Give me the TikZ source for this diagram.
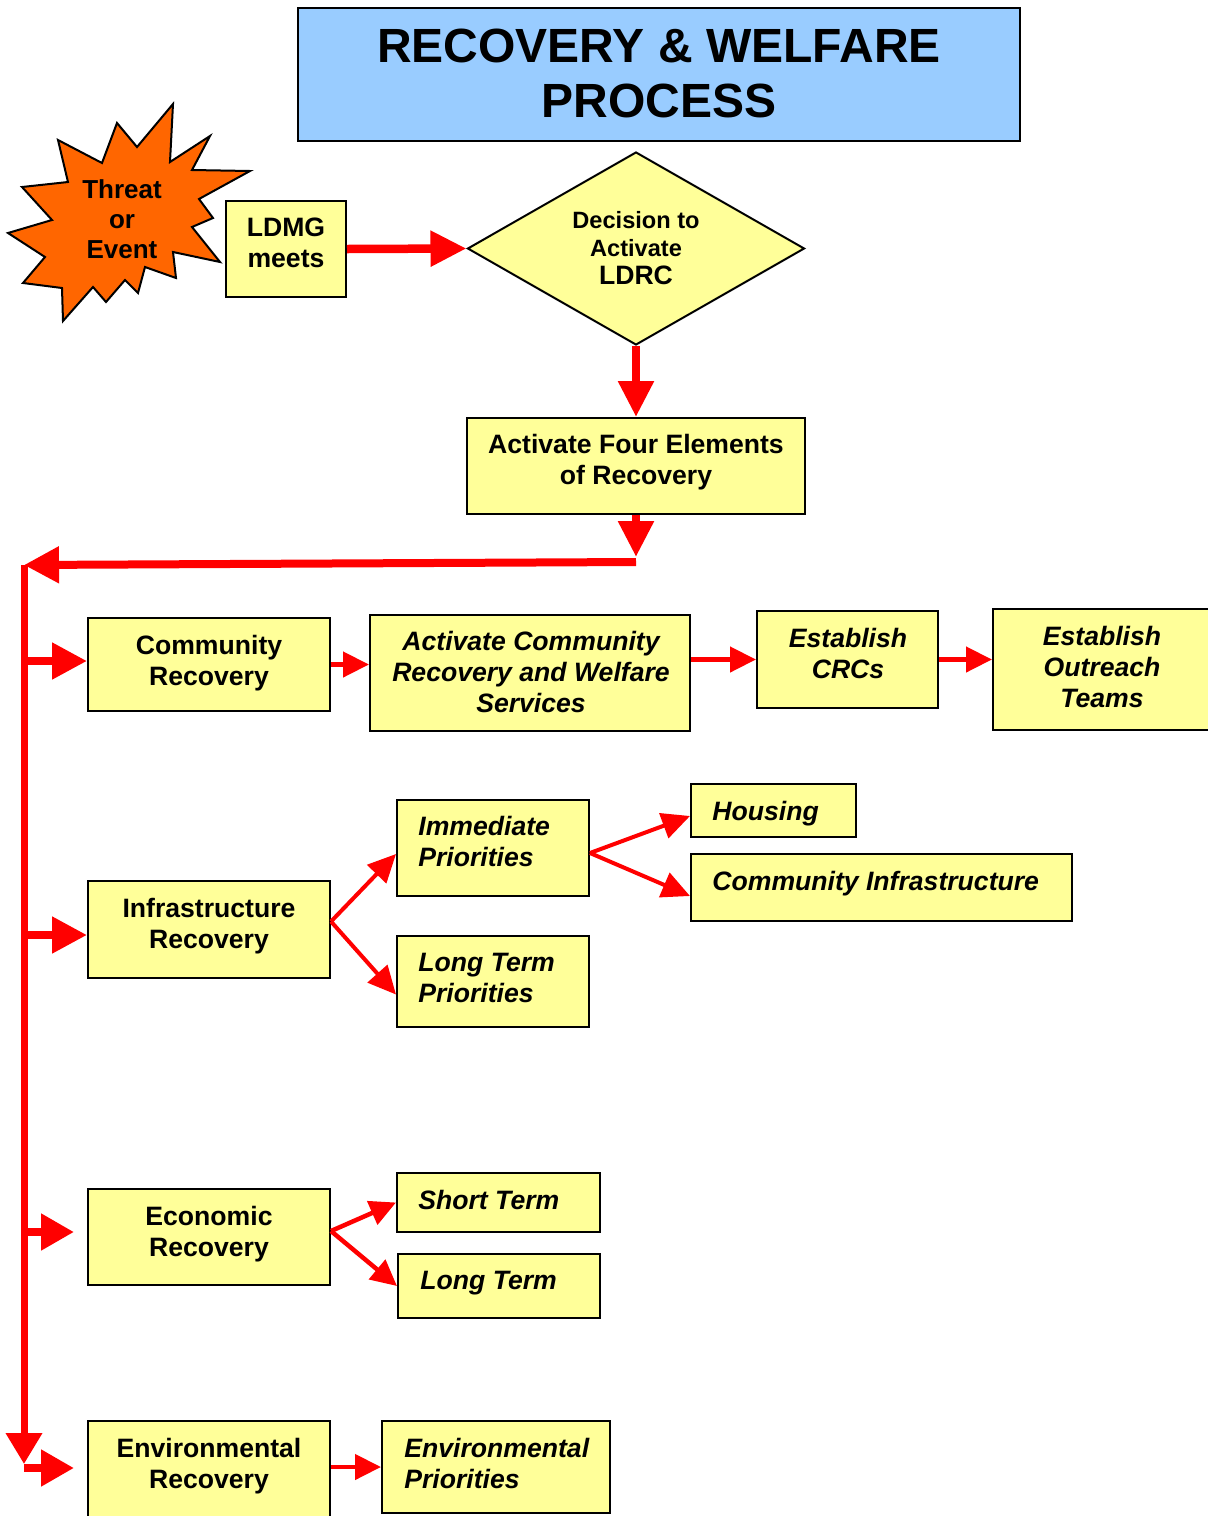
\documentclass[tikz,border=0pt]{standalone}
\usepackage{fontspec}
\setmainfont{Liberation Sans}
\usetikzlibrary{arrows.meta,shapes.geometric}
\definecolor{boxyellow}{HTML}{FFFF99}
\definecolor{titleblue}{HTML}{99CCFF}
\definecolor{burstorange}{HTML}{FF6600}
\definecolor{arrowred}{HTML}{FF0000}
\begin{document}
\begin{tikzpicture}[x=0.5pt,y=-0.5pt,
  box/.style={draw=black, line width=1pt, fill=boxyellow, rectangle, inner sep=0pt},
  txt/.style={font=\fontsize{13.3}{15.5}\selectfont\bfseries, align=center, inner sep=0pt},
  itxt/.style={font=\fontsize{13.3}{15.5}\selectfont\bfseries\itshape, align=center, inner sep=0pt},
  iltxt/.style={font=\fontsize{13.3}{15.5}\selectfont\bfseries\itshape, align=left, inner sep=0pt, anchor=west},
  bigarrow/.style={draw=arrowred, line width=4.25pt, -{Triangle[length=18pt,width=17pt]}},
  trunkarrow/.style={draw=arrowred, line width=3.5pt, -{Triangle[length=15.5pt,width=17.5pt]}},
  brancharrow/.style={draw=arrowred, line width=4pt, -{Triangle[length=17.5pt,width=17.5pt]}},
  smallarrow/.style={draw=arrowred, line width=2.25pt, -{Triangle[length=13pt,width=12.5pt]}},
  diagarrow/.style={draw=arrowred, line width=2pt, -{Triangle[length=14pt,width=13pt]}}
]
\useasboundingbox (0,0) rectangle (1207,1516);
\fill[white] (0,0) rectangle (1207,1516);

% title
\node[draw=black, line width=1pt, fill=titleblue, rectangle, inner sep=0pt,
      minimum width=361pt, minimum height=66.5pt] (title) at (659,74.5) {};
\node[font=\fontsize{24}{27.5}\selectfont\bfseries, align=center, inner sep=0pt] (titlet) at (659,73) {RECOVERY \& WELFARE\\PROCESS};

% starburst
\draw[fill=burstorange, line width=1pt, line join=miter]
  (173,104) -- (170,162) -- (210,136) -- (192,170) -- (250,171) -- (199,199) -- (213,218) -- (192,227)
  -- (220,262) -- (173,252) -- (176,278) -- (145,267) -- (138,293) -- (125,280) -- (106,302) -- (93,287)
  -- (63,321) -- (62,288) -- (23,283) -- (45,257) -- (8,233) -- (52,220) -- (22,187) -- (68,182)
  -- (58,140) -- (102,163) -- (117,123) -- (137,147) -- cycle;
\node[font=\fontsize{13}{15}\selectfont\bfseries, align=center, inner sep=0pt] (threat) at (122,219) {Threat\\or\\Event};

% top row
\node[box, minimum width=60pt, minimum height=48pt] (ldmg) at (286,249) {};
\node[txt] (ldmgt) at (286,243) {LDMG\\meets};
\node[draw=black, line width=1pt, fill=boxyellow, diamond, inner sep=0pt,
      minimum width=168.5pt, minimum height=96.5pt] (dec) at (636,248.5) {};
\node[font=\fontsize{11.8}{14}\selectfont\bfseries, align=center, inner sep=0pt] (dect) at (636,248)
  {Decision to\\Activate\\{\fontsize{13.3}{14.5}\selectfont LDRC}};
\node[box, minimum width=169pt, minimum height=48pt] (act) at (636,466) {};
\node[txt] (actt) at (636,462) {Activate Four Elements\\of Recovery};

% community row
\node[box, minimum width=121pt, minimum height=46.5pt] (cr) at (209,664.5) {};
\node[txt] (crt) at (209,663) {Community\\Recovery};
\node[box, minimum width=160pt, minimum height=58pt] (acr) at (530,673) {};
\node[itxt] (acrt) at (531,672) {Activate Community\\Recovery and Welfare\\Services};
\node[box, minimum width=90.5pt, minimum height=48.5pt] (crc) at (847.5,659.5) {};
\node[itxt] (crct) at (848,653) {Establish\\CRCs};
\node[box, minimum width=109pt, minimum height=60.5pt] (eot) at (1102,669.5) {};
\node[itxt] (eott) at (1102,667) {Establish\\Outreach\\Teams};

% infrastructure
\node[box, minimum width=121pt, minimum height=48.5pt] (ir) at (209,929.5) {};
\node[txt] (irt) at (209,926) {Infrastructure\\Recovery};
\node[box, minimum width=96pt, minimum height=48pt] (ip) at (493,848) {};
\node[iltxt] (ipt) at (418,841) {Immediate\\Priorities};
\node[box, minimum width=96pt, minimum height=45.5pt] (ltp) at (493,981.5) {};
\node[iltxt] (ltpt) at (418,978) {Long Term\\Priorities};
\node[box, minimum width=82.5pt, minimum height=26.5pt] (hs) at (773.5,810.5) {};
\node[iltxt] (hst) at (712,813.5) {Housing};
\node[box, minimum width=190.5pt, minimum height=33.5pt] (ci) at (881.5,887.5) {};
\node[iltxt] (cit) at (712,884) {Community Infrastructure};

% economic
\node[box, minimum width=121pt, minimum height=48pt] (er) at (209,1237) {};
\node[txt] (ert) at (209,1234) {Economic\\Recovery};
\node[box, minimum width=101.5pt, minimum height=29.5pt] (st) at (498.5,1202.5) {};
\node[iltxt] (stt) at (418,1200) {Short Term};
\node[box, minimum width=101pt, minimum height=32pt] (lt) at (499,1286) {};
\node[iltxt] (ltt) at (420,1283) {Long Term};

% environmental
\node[box, minimum width=121pt, minimum height=51pt] (env) at (209,1472) {};
\node[txt] (envt) at (209,1466) {Environmental\\Recovery};
\node[box, minimum width=114pt, minimum height=46pt] (ep) at (496,1467) {};
\node[iltxt] (ept) at (404,1463) {Environmental\\Priorities};

% connectors top
\draw[bigarrow] (ldmg.east) -- (dec.west);
\draw[bigarrow] (dec.south) -- (act.north);
\coordinate (a1) at (636,557);
\draw[bigarrow] (act.south) -- (a1);
\coordinate (t0) at (636,562);
\coordinate (t1) at (24,565);
\coordinate (t2) at (24,1464);
\draw[draw=arrowred, line width=4pt, -{Triangle[length=17.5pt,width=17.5pt]}] (t0) -- (t1);
\draw[trunkarrow] (t1) -- (t2);

% branches
\coordinate (b1) at (24,661);
\coordinate (b2) at (24,935);
\coordinate (b3) at (24,1232);
\coordinate (b4) at (24,1468);
\draw[brancharrow] (b1) -- (b1 -| cr.west);
\draw[brancharrow] (b2) -- (b2 -| ir.west);
\draw[brancharrow, -{Triangle[length=16.5pt,width=17.5pt]}, shorten >=6.5pt] (b3) -- (b3 -| er.west);
\draw[brancharrow, -{Triangle[length=16.5pt,width=17.5pt]}, shorten >=6.5pt] (b4) -- (b4 -| env.west);

% community row arrows
\draw[smallarrow] (cr.east) -- (cr.east -| acr.west);
\draw[smallarrow] (crc.west -| acr.east) -- (crc.west);
\draw[smallarrow] (crc.east) -- (crc.east -| eot.west);

% infrastructure arrows
\draw[diagarrow] ([yshift=4pt]ir.east) -- ([yshift=-3pt]ip.west);
\draw[diagarrow] ([yshift=4pt]ir.east) -- ([yshift=-6.5pt]ltp.west);
\draw[diagarrow] ([yshift=-2.5pt]ip.east) -- ([yshift=-2.75pt]hs.west);
\draw[diagarrow] ([yshift=-2.5pt]ip.east) -- ([yshift=-4.25pt]ci.west);

% economic arrows
\draw[smallarrow] ([yshift=3pt]er.east) -- (st.west);
\draw[smallarrow] ([yshift=3pt]er.east) -- (lt.west);

% environmental arrow
\draw[smallarrow] (ep.west -| env.east) -- (ep.west);
\end{tikzpicture}
\end{document}
